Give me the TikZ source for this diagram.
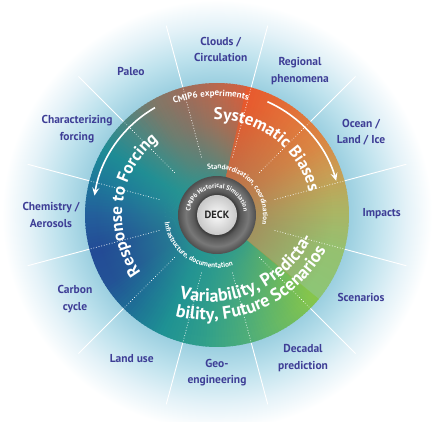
\documentclass[tikz,border=0pt]{standalone}
\usepackage{fontspec}
\setmainfont{PT Sans}
\usetikzlibrary{decorations.text,arrows.meta,fadings}

\definecolor{lblue}{RGB}{62,62,150}
\definecolor{haloA}{RGB}{155,207,224}
\definecolor{haloB}{RGB}{190,226,237}
\definecolor{haloC}{RGB}{228,242,248}
\definecolor{b0}{RGB}{140,198,118}
\definecolor{b1}{RGB}{150,192,112}
\definecolor{b2}{RGB}{175,178,98}
\definecolor{b3}{RGB}{200,158,85}
\definecolor{b4}{RGB}{218,135,68}
\definecolor{b5}{RGB}{226,112,56}
\definecolor{b6}{RGB}{232,88,45}
\definecolor{r0}{RGB}{212,96,62}
\definecolor{r1}{RGB}{185,104,78}
\definecolor{r2}{RGB}{155,110,92}
\definecolor{r3}{RGB}{125,120,105}
\definecolor{r4}{RGB}{75,135,130}
\definecolor{r5}{RGB}{30,140,150}
\definecolor{r6}{RGB}{30,120,155}
\definecolor{r7}{RGB}{35,95,155}
\definecolor{r8}{RGB}{35,75,150}
\definecolor{r9}{RGB}{35,82,150}
\definecolor{r10}{RGB}{30,112,150}
\definecolor{r11}{RGB}{30,145,148}
\definecolor{v1}{RGB}{50,160,138}
\definecolor{v2}{RGB}{80,175,120}
\definecolor{v3}{RGB}{105,185,100}
\definecolor{v4}{RGB}{135,198,75}
\definecolor{tealov}{RGB}{40,150,145}
\definecolor{brownov}{RGB}{172,122,84}
\definecolor{ringdark}{RGB}{60,60,60}
\definecolor{ringA}{RGB}{88,88,88}
\definecolor{ringB}{RGB}{120,120,120}
\definecolor{ringC}{RGB}{78,78,78}
\definecolor{deckin}{RGB}{250,250,250}
\definecolor{deckout}{RGB}{200,200,200}

\pgfdeclareradialshading{haloshade}{\pgfpointorigin}{color(0bp)=(haloA); color(15.3bp)=(haloA); color(18.6bp)=(haloB); color(22bp)=(haloC); color(25bp)=(white); color(50bp)=(white)}
\pgfdeclareradialshading{ringshade}{\pgfpointorigin}{color(0bp)=(ringdark); color(13bp)=(ringdark); color(15bp)=(ringA); color(20bp)=(ringB); color(25bp)=(ringC); color(50bp)=(ringC)}
\pgfdeclareradialshading{ovshT}{\pgfpointorigin}{color(0bp)=(black!10); color(7.4bp)=(black!22); color(10.4bp)=(black!45); color(17bp)=(black!80); color(23bp)=(black!100); color(50bp)=(black!100)}
\pgfdeclarefading{ovfadeT}{\pgfuseshading{ovshT}}
\pgfdeclareradialshading{ovshB}{\pgfpointorigin}{color(0bp)=(black!30); color(7.4bp)=(black!35); color(10.4bp)=(black!50); color(17bp)=(black!80); color(21.8bp)=(black!100); color(50bp)=(black!100)}
\pgfdeclarefading{ovfadeB}{\pgfuseshading{ovshB}}

\newcommand\myBig{\fontsize{17}{17}\selectfont\bfseries}
\newcommand\myBigV{\fontsize{18}{18}\selectfont\bfseries}
\newcommand\myMid{\fontsize{9}{9}\selectfont\bfseries}
\newcommand\mySmall{\fontsize{7.2}{7.2}\selectfont\bfseries}
\newcommand\myTiny{\fontsize{6.5}{6.5}\selectfont\bfseries}

\tikzset{
  arctext/.style={decorate, decoration={text along path, text align=center, text color=white}},
  lab/.style={font=\fontsize{11.5}{16.5}\selectfont\bfseries, text=lblue, align=center},
  spoke/.style={white, line width=0.9pt},
  dotspoke/.style={white, opacity=0.85, line width=1pt, line cap=round, dash pattern=on 0.1pt off 2.6pt},
  cyclearrow/.style={white, line width=1.6pt, -{Stealth[length=8pt, width=7pt, inset=3pt]}}
}

\begin{document}
\begin{tikzpicture}[x=1pt,y=1pt]
\useasboundingbox (-217,-207) rectangle (219,215);
\fill[white] (-217,-207) rectangle (219,215);
% halo
\shade[shading=haloshade] (0,0) circle (215pt);
% outer spokes
\foreach \a in {15,45,...,345} {
  \draw[spoke] (\a:132pt) -- (\a:196pt);
}
% disk, angular gradient
\foreach \aa/\bb/\ca/\cb in {-40/-15/b0/b1, -15/5/b1/b2, 5/20/b2/b3, 20/35/b3/b4, 35/55/b4/b5, 55/77/b5/b6,
  77/90/r0/r1, 90/105/r1/r2, 105/120/r2/r3, 120/135/r3/r4, 135/150/r4/r5, 150/165/r5/r6, 165/180/r6/r7,
  180/197/r7/r8, 197/212/r8/r9, 212/228/r9/r10, 228/245/r10/r11,
  245/265/r11/v1, 265/285/v1/v2, 285/300/v2/v3, 300/320/v3/v4} {
  \pgfmathtruncatemacro{\n}{ceil((\bb-\aa)/1.5)}
  \foreach \i in {1,...,\n} {
    \pgfmathsetmacro{\s}{\aa+(\i-1)*(\bb-\aa)/\n}
    \pgfmathsetmacro{\e}{\aa+\i*(\bb-\aa)/\n+0.5}
    \pgfmathtruncatemacro{\p}{round(100*(\i-0.5)/\n)}
    \colorlet{wc}{\cb!\p!\ca}
    \fill[wc] (0,0) -- (\s:132pt) arc[start angle=\s, end angle=\e, radius=132pt] -- cycle;
  }
}
% inner overlays
\begin{scope}
  \clip (0,0) -- (77:140pt) arc[start angle=77, end angle=320, radius=140pt] -- cycle;
  \fill[tealov, path fading=ovfadeT] (0,0) circle (132pt);
\end{scope}
\begin{scope}
  \clip (0,0) -- (-40:140pt) arc[start angle=-40, end angle=77, radius=140pt] -- cycle;
  \fill[brownov, path fading=ovfadeB] (0,0) circle (132pt);
\end{scope}
% dotted spokes
\foreach \a in {15,45,...,345} {
  \draw[dotspoke] (\a:60pt) -- (\a:131pt);
}
% big arc texts
\path[arctext, decoration={text={|\myBig|Systematic Biases}}] (133:95pt) arc[start angle=133, end angle=-27, radius=95pt];
\path[arctext, decoration={text={|\myBig|Response to Forcing}}] (257.5:95pt) arc[start angle=257.5, end angle=87.5, radius=95pt];
\begin{scope}[shift={(-9,30)}]
  \coordinate (vcen) at (0,0);
  \path[arctext, decoration={text={|\myBigV|Variability, Predicta-}}] (-125.5:117pt) arc[start angle=-125.5, end angle=-5.5, radius=117pt];
  \path[arctext, decoration={text={|\myBigV|bility, Future Scenarios}}] (-126.5:135pt) arc[start angle=-126.5, end angle=-6.5, radius=135pt];
\end{scope}
% small arc texts
\path[arctext, decoration={text={|\myMid|CMIP6 experiments}}] (143:119pt) arc[start angle=143, end angle=43, radius=119pt];
\path[arctext, decoration={text={|\mySmall|Standardization, coordination}}] (135:46pt) arc[start angle=135, end angle=-45, radius=46pt];
\path[arctext, decoration={text={|\mySmall|Infrastructure, documentation}}] (148:53pt) arc[start angle=148, end angle=328, radius=53pt];
% cycle arrows
\draw[cyclearrow] (120:124pt) arc[start angle=120, end angle=171, radius=124pt];
\draw[cyclearrow] (66:124pt) arc[start angle=66, end angle=16, radius=124pt];
% central rings
\shade[shading=ringshade] (0,0) circle (39pt);
\shade[inner color=deckin, outer color=deckout] (0,0) circle (20pt);
\path[arctext, decoration={text={|\myTiny|CMIP6 Historical Simulation}}] (200:27pt) arc[start angle=200, end angle=-20, radius=27pt];
\node[font=\fontsize{10.5}{12}\selectfont\bfseries, text=black!85] (deck) at (0,0) {DECK};
% outer labels
\node[lab] (clouds) at (3.7,165.7) {Clouds /\\Circulation};
\node[lab] (regional) at (83,144) {Regional\\phenomena};
\node[lab] (ocean) at (144,83) {Ocean /\\Land / Ice};
\node[lab] (impacts) at (164.7,1.7) {Impacts};
\node[lab] (scen) at (144,-82.7) {Scenarios};
\node[lab] (decadal) at (86,-143) {Decadal\\prediction};
\node[lab] (geo) at (0,-157.7) {Geo-\\engineering};
\node[lab] (landuse) at (-85.3,-144) {Land use};
\node[lab] (carbon) at (-142,-84) {Carbon\\cycle};
\node[lab] (chem) at (-166,0) {Chemistry /\\Aerosols};
\node[lab] (charforc) at (-140,85.7) {Characterizing\\forcing};
\node[lab] (paleo) at (-86,143.3) {Paleo};
\end{tikzpicture}
\end{document}
